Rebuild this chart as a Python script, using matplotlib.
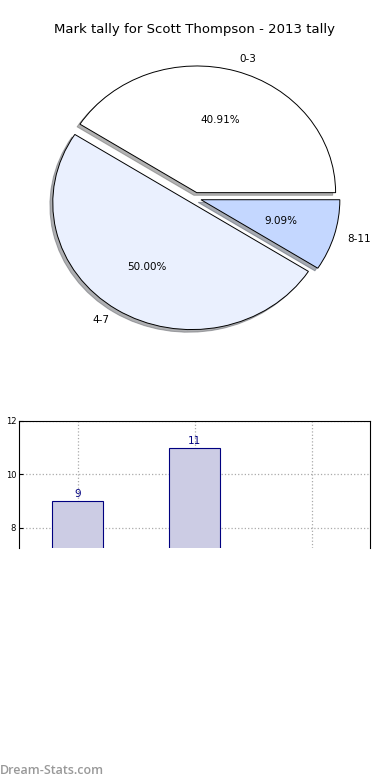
import numpy as np
import matplotlib
matplotlib.use('Agg')
import matplotlib.pyplot as plt

# Mark tally data
ranges = ['0-3', '4-7', '8-11']
tally = [9, 11, 2]
pie_colors = ['#ffffff', '#eaf0fe', '#c4d7ff']
bar_values = [9, 11, 2]

fig = plt.figure(figsize=(3.9, 7.8), dpi=100)

# Pie chart (elliptical, like the old matplotlib output)
ax1 = fig.add_axes([0.055, 0.543, 0.89, 0.406])
wedges, texts, autotexts = ax1.pie(
    tally, labels=ranges, colors=pie_colors, explode=[0.045, 0.045, 0.045],
    autopct='%1.2f%%', shadow={'ox': -0.015, 'oy': -0.015, 'shade': 0.6},
    startangle=0, wedgeprops={'edgecolor': 'black', 'linewidth': 0.7},
    textprops={'fontsize': 7.5})
ax1.set_aspect('auto')
fig.text(0.5, 1 - 30 / 780, 'Mark tally for Scott Thompson - 2013 tally',
         ha='center', va='center', fontsize=9.5)

# Bar chart (bottom is cut off in the original)
ax2 = fig.add_axes([19 / 390, 1 - 548 / 780, 351 / 390, 127 / 780])
x = np.arange(len(bar_values))
ax2.bar(x, bar_values, width=0.44, color='#ccccE4', edgecolor='#000080',
        linewidth=0.8, zorder=2)
for xi, v in zip(x, bar_values):
    ax2.text(xi, v + 0.08, str(v), ha='center', va='bottom', color='#000080',
             fontsize=7.5, zorder=3, clip_on=True)
ax2.set_xlim(-0.5, 2.5)
ax2.set_ylim(7.25, 12)
ax2.set_yticks([8, 10, 12])
ax2.set_xticks(x)
ax2.set_xticklabels([])
ax2.tick_params(axis='both', direction='in', labelsize=6, length=3, pad=2)
ax2.tick_params(axis='x', bottom=False)
ax2.grid(True, linestyle=':', color='#aaaaaa', linewidth=0.9, zorder=0)
ax2.spines['bottom'].set_visible(False)

# watermark
fig.text(0.0, 1 - 770 / 780, 'Dream-Stats.com', ha='left', va='center',
         fontsize=9, color='#999999', family='Open Sans', weight='semibold')

fig.savefig('out.png', dpi=100)
